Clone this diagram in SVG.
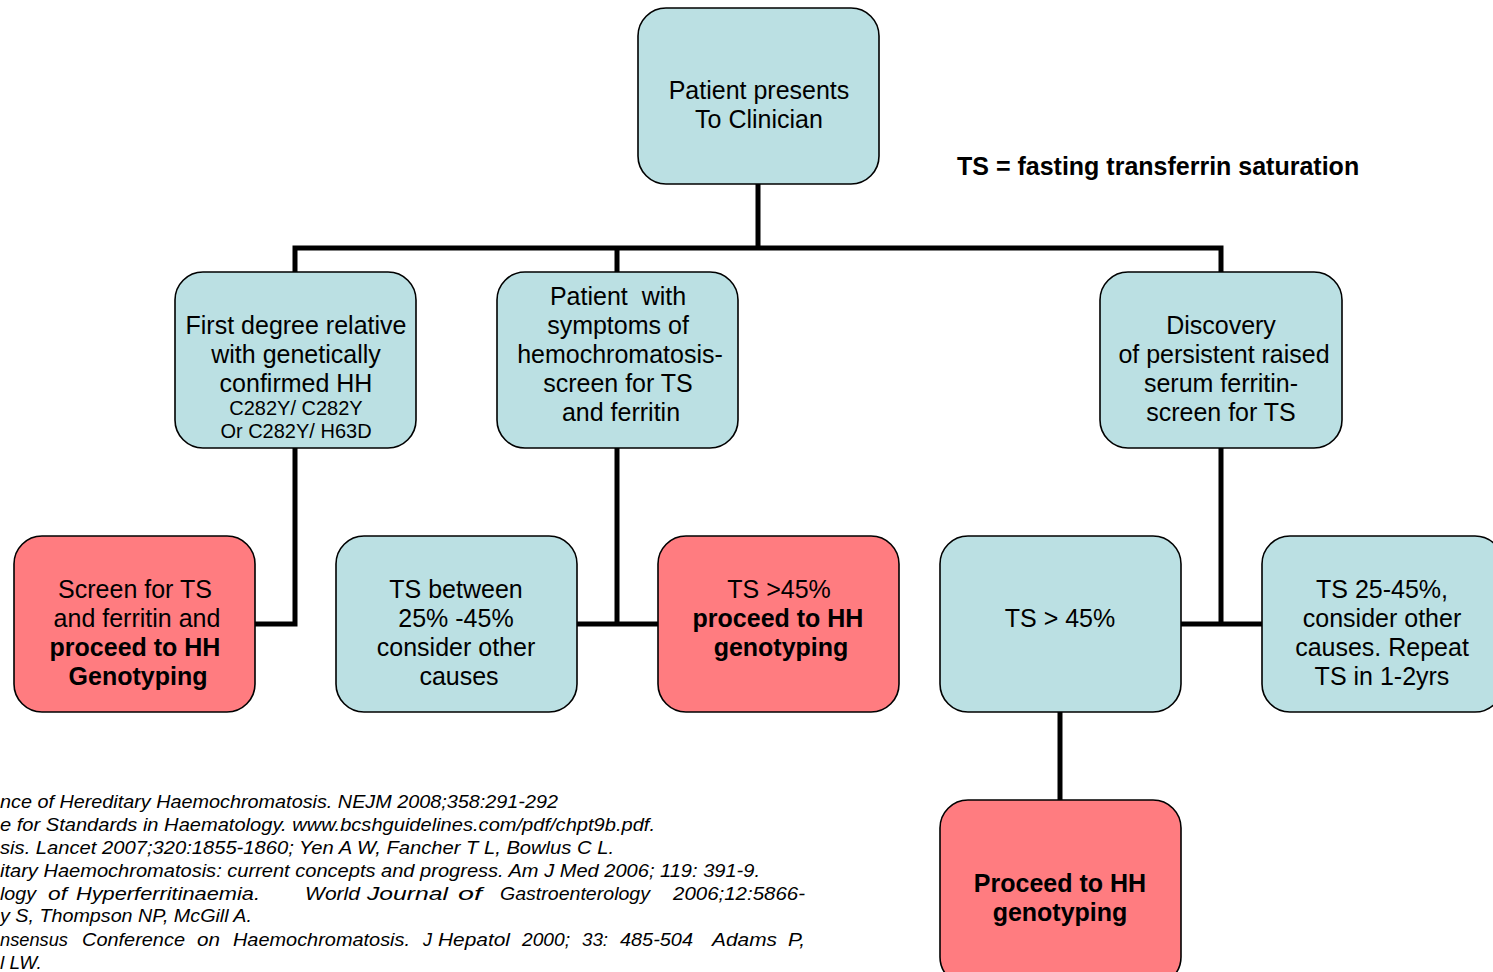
<svg xmlns="http://www.w3.org/2000/svg" width="1493" height="972" viewBox="0 0 1493 972">
<style>
.t{fill:#BBE0E3;stroke:#000;stroke-width:1.6}
.r{fill:#FF7C80;stroke:#000;stroke-width:1.6}
text{font-family:"Liberation Sans",Arial,sans-serif;fill:#000}
.n{font-size:25px;text-anchor:middle}
.s{font-size:20px;text-anchor:middle}
.b{font-weight:bold}
.ref{font-size:19px;font-style:italic}
.c{fill:none;stroke:#000;stroke-width:5}
</style>
<rect width="1493" height="972" fill="#fff"/>
<g id="connectors">
<path class="c" d="M758 184V248M295 272V248H1221V272M617 248V272"/>
<path class="c" d="M295 448V624H255"/>
<path class="c" d="M617 448V624M577 624H658"/>
<path class="c" d="M1221 448V624M1181 624H1262"/>
<path class="c" d="M1060 712V800"/>
</g>
<g id="n-top"><rect class="t" x="638" y="8" width="241" height="176" rx="28"/>
<text class="n" x="759" y="99">Patient presents</text><text class="n" x="759" y="128">To Clinician</text></g>
<g id="legend"><text x="957" y="175" font-size="25" font-weight="bold">TS = fasting transferrin saturation</text></g>
<g id="n-relative"><rect class="t" x="175" y="272" width="241" height="176" rx="28"/>
<text class="n" x="296" y="334">First degree relative</text><text class="n" x="296" y="363">with genetically</text><text class="n" x="296" y="392">confirmed HH</text>
<text class="s" x="296" y="415">C282Y/ C282Y</text><text class="s" x="296" y="438">Or C282Y/ H63D</text></g>
<g id="n-symptoms"><rect class="t" x="497" y="272" width="241" height="176" rx="28"/>
<text class="n" x="618" y="305" xml:space="preserve">Patient  with</text><text class="n" x="618" y="334">symptoms of</text><text class="n" x="620" y="363">hemochromatosis-</text><text class="n" x="618" y="392">screen for TS</text><text class="n" x="621" y="421">and ferritin</text></g>
<g id="n-ferritin"><rect class="t" x="1100" y="272" width="242" height="176" rx="28"/>
<text class="n" x="1221" y="334">Discovery</text><text class="n" x="1224" y="363">of persistent raised</text><text class="n" x="1221" y="392">serum ferritin-</text><text class="n" x="1221" y="421">screen for TS</text></g>
<g id="n-screen"><rect class="r" x="14" y="536" width="241" height="176" rx="28"/>
<text class="n" x="135" y="598">Screen for TS</text><text class="n" x="137" y="627">and ferritin and</text><text class="n b" x="135" y="656">proceed to HH</text><text class="n b" x="138" y="685">Genotyping</text></g>
<g id="n-between"><rect class="t" x="336" y="536" width="241" height="176" rx="28"/>
<text class="n" x="456" y="598">TS between</text><text class="n" x="456" y="627">25% -45%</text><text class="n" x="456" y="656">consider other</text><text class="n" x="459" y="685">causes</text></g>
<g id="n-gt45a"><rect class="r" x="658" y="536" width="241" height="176" rx="28"/>
<text class="n" x="779" y="598">TS &gt;45%</text><text class="n b" x="778" y="627">proceed to HH</text><text class="n b" x="781" y="656">genotyping</text></g>
<g id="n-gt45b"><rect class="t" x="940" y="536" width="241" height="176" rx="28"/>
<text class="n" x="1060" y="627">TS &gt; 45%</text></g>
<g id="n-25-45"><rect class="t" x="1262" y="536" width="241" height="176" rx="28"/>
<text class="n" x="1382" y="598">TS 25-45%,</text><text class="n" x="1382" y="627">consider other</text><text class="n" x="1382" y="656">causes. Repeat</text><text class="n" x="1382" y="685">TS in 1-2yrs</text></g>
<g id="n-proceed"><rect class="r" x="940" y="800" width="241" height="185" rx="28"/>
<text class="n b" x="1060" y="892">Proceed to HH</text><text class="n b" x="1060" y="921">genotyping</text></g>
<g id="references">
<text class="ref" x="0" y="808" textLength="558" lengthAdjust="spacingAndGlyphs">nce of Hereditary Haemochromatosis. NEJM 2008;358:291-292</text>
<text class="ref" x="0" y="831" textLength="655" lengthAdjust="spacingAndGlyphs">e for Standards in Haematology. www.bcshguidelines.com/pdf/chpt9b.pdf.</text>
<text class="ref" x="0" y="854" textLength="614" lengthAdjust="spacingAndGlyphs">sis. Lancet 2007;320:1855-1860; Yen A W, Fancher T L, Bowlus C L.</text>
<text class="ref" x="0" y="877" textLength="760" lengthAdjust="spacingAndGlyphs">itary Haemochromatosis: current concepts and progress. Am J Med 2006; 119: 391-9.</text>
<text class="ref" y="900"><tspan x="0" textLength="36" lengthAdjust="spacingAndGlyphs">logy</tspan><tspan x="48" textLength="19" lengthAdjust="spacingAndGlyphs">of</tspan><tspan x="76" textLength="184" lengthAdjust="spacingAndGlyphs">Hyperferritinaemia.</tspan><tspan x="305" textLength="55" lengthAdjust="spacingAndGlyphs">World</tspan><tspan x="367" textLength="81" lengthAdjust="spacingAndGlyphs">Journal</tspan><tspan x="458" textLength="24" lengthAdjust="spacingAndGlyphs">of</tspan><tspan x="500" textLength="150" lengthAdjust="spacingAndGlyphs">Gastroenterology</tspan><tspan x="673" textLength="132" lengthAdjust="spacingAndGlyphs">2006;12:5866-</tspan></text>
<text class="ref" x="0" y="922" textLength="252" lengthAdjust="spacingAndGlyphs">y S, Thompson NP, McGill A.</text>
<text class="ref" y="946"><tspan x="0" textLength="68" lengthAdjust="spacingAndGlyphs">nsensus</tspan><tspan x="82" textLength="103" lengthAdjust="spacingAndGlyphs">Conference</tspan><tspan x="197" textLength="23" lengthAdjust="spacingAndGlyphs">on</tspan><tspan x="233" textLength="177" lengthAdjust="spacingAndGlyphs">Haemochromatosis.</tspan><tspan x="423" textLength="9" lengthAdjust="spacingAndGlyphs">J</tspan><tspan x="438" textLength="72" lengthAdjust="spacingAndGlyphs">Hepatol</tspan><tspan x="522" textLength="48" lengthAdjust="spacingAndGlyphs">2000;</tspan><tspan x="582" textLength="26" lengthAdjust="spacingAndGlyphs">33:</tspan><tspan x="620" textLength="73" lengthAdjust="spacingAndGlyphs">485-504</tspan><tspan x="712" textLength="65" lengthAdjust="spacingAndGlyphs">Adams</tspan><tspan x="788" textLength="17" lengthAdjust="spacingAndGlyphs">P,</tspan></text>
<text class="ref" x="0" y="969">l LW.</text>
</g>
</svg>
